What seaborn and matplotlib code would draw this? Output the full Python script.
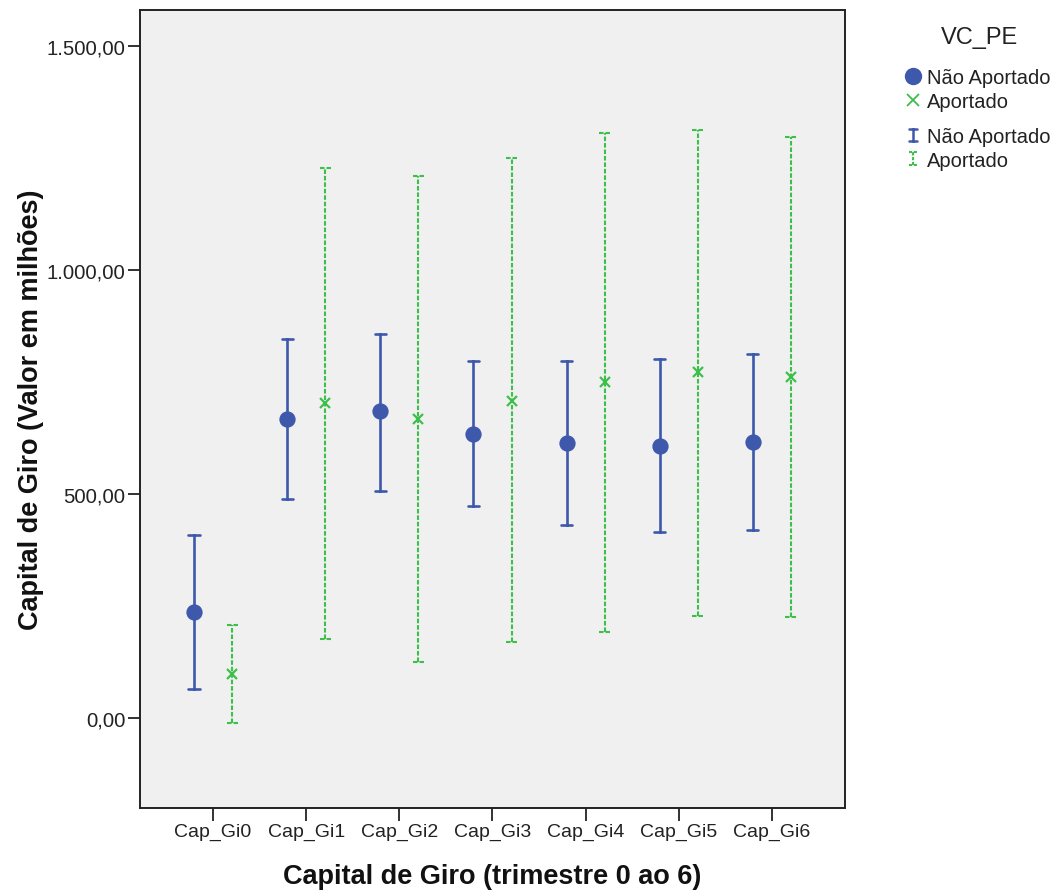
import numpy as np
import pandas as pd
import matplotlib
matplotlib.use("Agg")
import matplotlib.pyplot as plt
import matplotlib.colors as mcolors
import seaborn as sns
from matplotlib.lines import Line2D
from matplotlib.legend_handler import HandlerBase
from matplotlib.ticker import FuncFormatter, FixedLocator

# Capital de giro por trimestre: média e intervalo de confiança por grupo
categorias = ["Cap_Gi0", "Cap_Gi1", "Cap_Gi2", "Cap_Gi3", "Cap_Gi4", "Cap_Gi5", "Cap_Gi6"]
grupos = ["Não Aportado", "Aportado"]

nao_media = [237, 667, 684, 634, 614, 608, 615]
nao_inf = [65, 489, 507, 473, 431, 414, 419]
nao_sup = [409, 845, 858, 797, 796, 800, 812]

apo_media = [98, 703, 667, 708, 749, 772, 760]
apo_inf = [-11, 176, 125, 170, 191, 228, 225]
apo_sup = [208, 1228, 1210, 1250, 1306, 1313, 1297]

y_ticks = [0, 500, 1000, 1500]

AZUL = "#3e58ac"
VERDE = "#3dbf4b"

# Tabela longa: limite inferior, média e limite superior de cada grupo
linhas = []
for grupo, inf, med, sup in ((grupos[0], nao_inf, nao_media, nao_sup),
                             (grupos[1], apo_inf, apo_media, apo_sup)):
    for cat, a, m, b in zip(categorias, inf, med, sup):
        for v in (a, m, b):
            linhas.append({"Trimestre": cat, "VC_PE": grupo, "Valor": v})
df = pd.DataFrame(linhas)

sns.set_theme(style="ticks")
plt.rcParams["font.family"] = ["Liberation Sans", "DejaVu Sans"]

fig = plt.figure(figsize=(10.58, 8.95), dpi=100)
ax = fig.add_axes([140 / 1058, 1 - 809 / 895, 705 / 1058, 798 / 895])
ax.set_facecolor("#f0f0f0")

sns.pointplot(
    data=df, x="Trimestre", y="Valor", hue="VC_PE",
    order=categorias, hue_order=grupos, palette=[AZUL, VERDE],
    estimator="median", errorbar=lambda v: (v.min(), v.max()),
    dodge=0.41, markers=["o", "x"], linestyles="none", capsize=0.12,
    err_kws={"linewidth": 1.9}, markersize=10.5, markeredgewidth=1.2,
    legend=False, ax=ax,
)

# Ajustes de estilo: marcadores por cima, barras do grupo Aportado tracejadas
for ln in ax.lines:
    cor = mcolors.to_hex(ln.get_color())
    marcador = ln.get_marker()
    if marcador == "o":
        ln.set_zorder(4)
    elif marcador == "x":
        ln.set_zorder(4)
        ln.set_markersize(6.5)
        ln.set_markeredgewidth(1.6)
    elif cor == VERDE:
        ln.set_linewidth(1.5)
        ln.set_dashes((2.2, 0.9))

ax.set_xlim(-0.785, 6.785)
ax.set_ylim(-201, 1580)
ax.yaxis.set_major_locator(FixedLocator(y_ticks))


def formato_br(v, pos):
    s = f"{v:,.2f}"
    return s.replace(",", "X").replace(".", ",").replace("X", ".")


ax.yaxis.set_major_formatter(FuncFormatter(formato_br))

for lado in ["left", "right", "top", "bottom"]:
    ax.spines[lado].set_color("#222222")
    ax.spines[lado].set_linewidth(1.4)
ax.tick_params(axis="both", length=9, width=1.3, color="#222222",
               labelcolor="#222222", pad=1.5)
ax.tick_params(axis="x", labelsize=14)
ax.tick_params(axis="y", labelsize=14.6)

ax.set_xlabel("Capital de Giro (trimestre 0 ao 6)", fontsize=19.5,
              fontweight="bold", color="#111111")
ax.set_ylabel("Capital de Giro (Valor em milhões)", fontsize=19.5,
              fontweight="bold", color="#111111")
ax.xaxis.set_label_coords(0.5, -0.069)
ax.yaxis.set_label_coords(-0.136, 0.5)


# Ícone de barra de erro para a legenda
class HandlerBarra(HandlerBase):
    def create_artists(self, legend, orig_handle, xdescent, ydescent,
                       width, height, fontsize, trans):
        cx = width / 2 - xdescent
        meia = 2.6
        y0 = -ydescent + height * 0.5 - 4.6
        y1 = -ydescent + height * 0.5 + 4.6
        xs = [cx - meia, cx + meia, np.nan, cx, cx, np.nan, cx - meia, cx + meia]
        ys = [y0, y0, np.nan, y0, y1, np.nan, y1, y1]
        barra = Line2D(xs, ys)
        barra.update_from(orig_handle)
        barra.set_data(xs, ys)
        barra.set_transform(trans)
        return [barra]


ponto_nao = Line2D([], [], color=AZUL, marker="o", linestyle="none",
                   markersize=11.5)
ponto_apo = Line2D([], [], color=VERDE, marker="x", linestyle="none",
                   markersize=8, markeredgewidth=1.3)
barra_nao = Line2D([], [], color=AZUL, linewidth=1.8)
barra_apo = Line2D([], [], color=VERDE, linewidth=1.5, dashes=(1.5, 0.8))

fig.text(980 / 1058, 1 - 38 / 895, "VC_PE", fontsize=17, ha="center",
         va="center", color="#222222")

estilo_leg = dict(loc="upper left", frameon=False, borderpad=0,
                  handlelength=1.0, handletextpad=0.2, labelspacing=0.23,
                  fontsize=14.5, borderaxespad=0)
leg1 = fig.legend([ponto_nao, ponto_apo], grupos,
                  bbox_to_anchor=(903 / 1058, 1 - 69 / 895), **estilo_leg)
leg2 = fig.legend([barra_nao, barra_apo], grupos,
                  bbox_to_anchor=(903 / 1058, 1 - 128 / 895),
                  handler_map={barra_nao: HandlerBarra(), barra_apo: HandlerBarra()},
                  **estilo_leg)
for leg in (leg1, leg2):
    for t in leg.get_texts():
        t.set_color("#222222")

fig.savefig("out.png", dpi=100)
